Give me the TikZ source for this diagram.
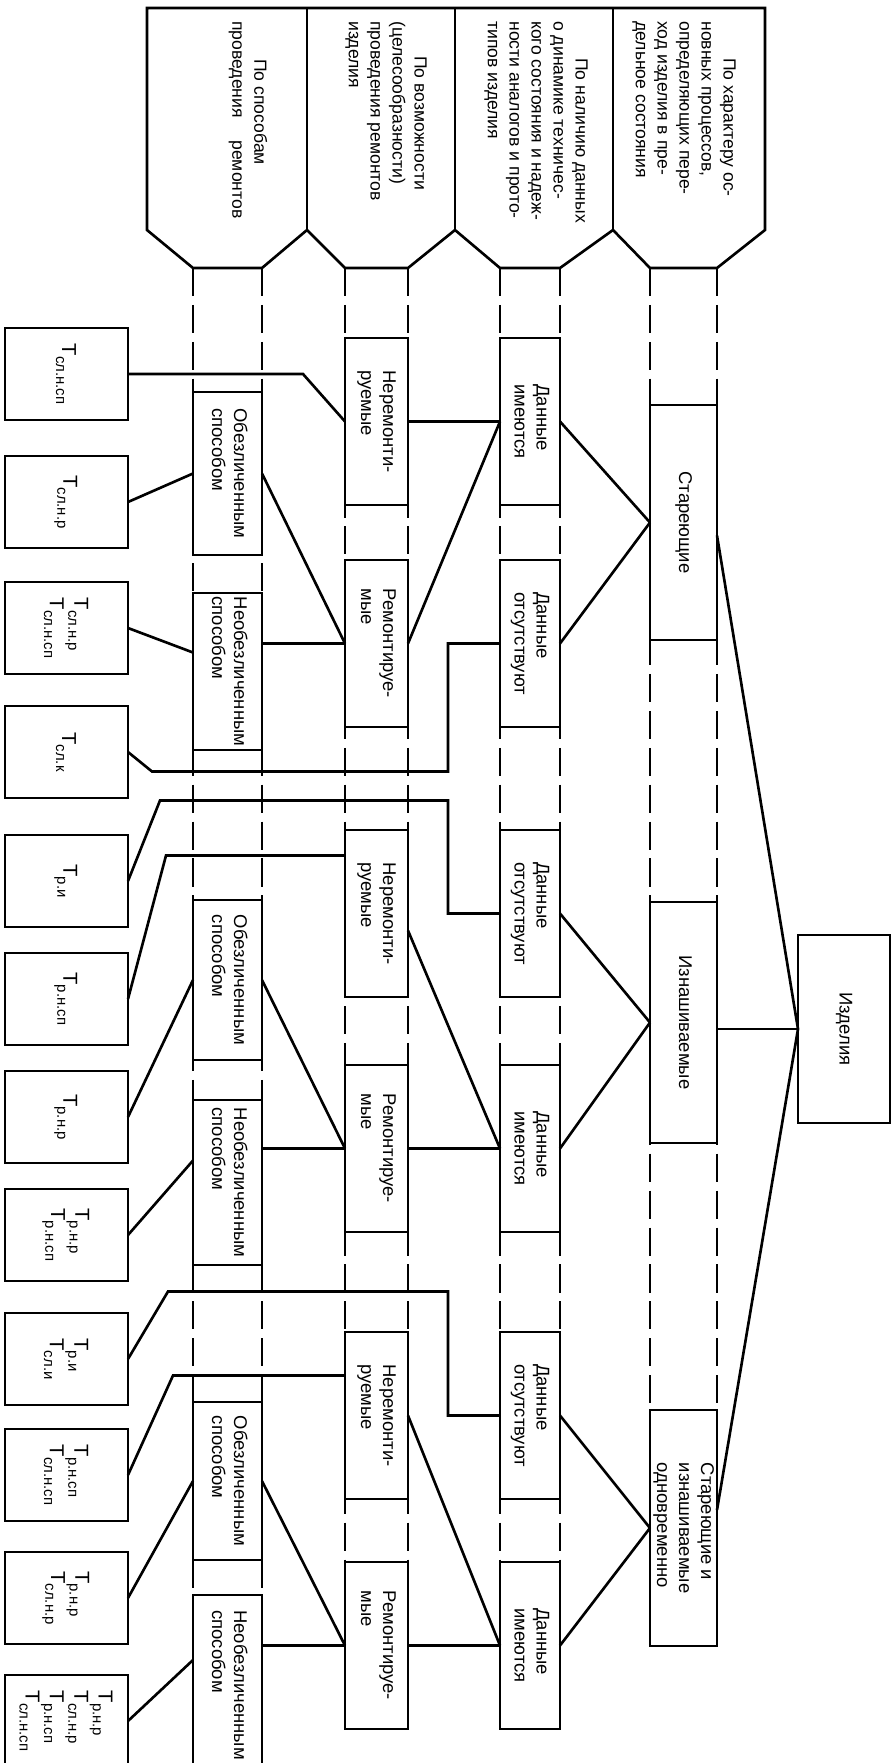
\documentclass[tikz,border=0pt]{standalone}
\usepackage{fontspec}
\setmainfont{Liberation Sans}
\usetikzlibrary{positioning}

\newcommand{\vtxt}[1]{\rotatebox{-90}{\begin{tabular}{@{}l@{}}#1\end{tabular}}}
\newcommand{\Tsub}[1]{Т\raisebox{-0.55ex}{\fontsize{8.5}{9}\selectfont #1}}

\begin{document}
\begin{tikzpicture}[
		line width=1.5pt,
		box/.style={rectangle, draw=black, fill=white, inner sep=0pt, outer sep=0pt, font=\fontsize{10.5}{12.5}\selectfont},
		t_box/.style={box, minimum width=2.46cm, minimum height=1.84cm, font=\fontsize{11.5}{12.5}\selectfont},
		way_box/.style={box, minimum width=1.38cm},
		rep_box/.style={box, minimum width=1.26cm, minimum height=3.34cm},
		data_box/.style={box, minimum width=1.2cm, minimum height=3.34cm},
		kind_box/.style={box, minimum width=1.34cm},
		head_text/.style={rotate=-90, anchor=west, align=left, inner sep=0pt, font=\fontsize{10}{12.5}\selectfont},
		guide/.style={dash pattern=on 16pt off 5pt},
		link/.style={line width=1.5pt}
		]
		\useasboundingbox (0,0) rectangle (17.92,-35.26);
		
		% --- HEADER (classification criteria) ---
		\coordinate (q0) at (2.94,-0.16);
		\coordinate (q1) at (6.14,-0.16);
		\coordinate (q2) at (9.1,-0.16);
		\coordinate (q3) at (12.26,-0.16);
		\coordinate (q4) at (15.3,-0.16);
		\coordinate (p0) at (2.94,-4.6);
		\coordinate (p1) at (6.14,-4.6);
		\coordinate (p2) at (9.1,-4.6);
		\coordinate (p3) at (12.26,-4.6);
		\coordinate (p4) at (15.3,-4.6);
		\coordinate (hB1) at (3.86,-5.36);
		\coordinate (hB2) at (5.24,-5.36);
		\coordinate (hC1) at (6.9,-5.36);
		\coordinate (hC2) at (8.16,-5.36);
		\coordinate (hD1) at (10.0,-5.36);
		\coordinate (hD2) at (11.2,-5.36);
		\coordinate (hE1) at (13.0,-5.36);
		\coordinate (hE2) at (14.34,-5.36);
		
		\draw (q0) -- (q4) -- (p4) -- (hE2) -- (hE1) -- (p3) -- (hD2) -- (hD1) -- (p2)
			-- (hC2) -- (hC1) -- (p1) -- (hB2) -- (hB1) -- (p0) -- cycle;
		\draw (q1) -- (p1);
		\draw (q2) -- (p2);
		\draw (q3) -- (p3);
		
		\node[head_text] (h_way) at (4.96,-0.4) {\hspace*{0.76cm}По способам\\проведения\hspace{1em} ремонтов};
		\node[head_text] (h_rep) at (7.72,-0.4) {\hspace*{0.7cm}По возможности\\(целесообразности)\\проведения ремонтов\\изделия};
		\node[head_text] (h_data) at (10.72,-0.4) {\hspace*{0.74cm}По наличию данных\\о динамике техничес-\\кого состояния и надеж-\\ности аналогов и прото-\\типов изделия};
		\node[head_text] (h_kind) at (13.68,-0.4) {\hspace*{0.74cm}По характеру ос-\\новных процессов,\\определяющих пере-\\ход изделия в пре-\\дельное состояния};
		
		% --- ROOT ---
		\node[box, minimum width=1.84cm, minimum height=3.76cm] (izd) at (16.88,-20.58) {\vtxt{Изделия}};
		
		% --- PROCESS KIND ---
		\node[kind_box, minimum height=4.7cm] (star) at (13.67,-10.45) {\vtxt{Стареющие}};
		\node[kind_box, minimum height=4.82cm, below=5.24cm of star] (iznash) {\vtxt{Изнашиваемые}};
		\node[kind_box, minimum height=4.72cm, below=5.34cm of iznash] (oba) {\vtxt{Стареющие и\\изнашиваемые\\одновременно}};
		
		% --- DATA ---
		\node[data_box] (d_im1) at (10.6,-8.43) {\vtxt{Данные\\имеются}};
		\node[data_box, below=1.1cm of d_im1] (d_ot1) {\vtxt{Данные\\отсутствуют}};
		\node[data_box, below=2.06cm of d_ot1] (d_ot2) {\vtxt{Данные\\отсутствуют}};
		\node[data_box, below=1.36cm of d_ot2] (d_im2) {\vtxt{Данные\\имеются}};
		\node[data_box, below=2.0cm of d_im2] (d_ot3) {\vtxt{Данные\\отсутствуют}};
		\node[data_box, below=1.26cm of d_ot3] (d_im3) {\vtxt{Данные\\имеются}};
		
		% --- REPAIRABILITY ---
		\node[rep_box, left=1.84cm of d_im1] (nerem1) {\vtxt{Неремонти-\\руемые}};
		\node[rep_box, left=1.84cm of d_ot1] (rem1) {\vtxt{Ремонтируе-\\мые}};
		\node[rep_box, left=1.84cm of d_ot2] (nerem2) {\vtxt{Неремонти-\\руемые}};
		\node[rep_box, left=1.84cm of d_im2] (rem2) {\vtxt{Ремонтируе-\\мые}};
		\node[rep_box, left=1.84cm of d_ot3] (nerem3) {\vtxt{Неремонти-\\руемые}};
		\node[rep_box, left=1.84cm of d_im3] (rem3) {\vtxt{Ремонтируе-\\мые}};
		
		% --- REPAIR WAY ---
		\node[way_box, minimum height=3.26cm] (obez1) at (4.55,-9.47) {\vtxt{Обезличенным\\способом}};
		\node[way_box, minimum height=3.14cm, below=0.76cm of obez1] (neob1) {\vtxt{Необезличенным\\способом}};
		\node[way_box, minimum height=3.2cm, below=3.0cm of neob1] (obez2) {\vtxt{Обезличенным\\способом}};
		\node[way_box, minimum height=3.3cm, below=0.8cm of obez2] (neob2) {\vtxt{Необезличенным\\способом}};
		\node[way_box, minimum height=3.16cm, below=2.74cm of neob2] (obez3) {\vtxt{Обезличенным\\способом}};
		\node[way_box, minimum height=3.6cm, below=0.7cm of obez3] (neob3) {\vtxt{Необезличенным\\способом}};
		
		% --- INDICATORS ---
		\node[t_box] (t1) at (1.33,-7.48) {\vtxt{\Tsub{сл.н.сп}}};
		\node[t_box, below=0.72cm of t1] (t2) {\vtxt{\Tsub{сл.н.р}}};
		\node[t_box, below=0.68cm of t2] (t3) {\vtxt{\Tsub{сл.н.р}\\\Tsub{сл.н.сп}}};
		\node[t_box, below=0.64cm of t3] (t4) {\vtxt{\Tsub{сл.к}}};
		\node[t_box, below=0.74cm of t4] (t5) {\vtxt{\Tsub{р.и}}};
		\node[t_box, below=0.52cm of t5] (t6) {\vtxt{\Tsub{р.н.сп}}};
		\node[t_box, below=0.52cm of t6] (t7) {\vtxt{\Tsub{р.н.р}}};
		\node[t_box, below=0.52cm of t7] (t8) {\vtxt{\Tsub{р.н.р}\\\Tsub{р.н.сп}}};
		\node[t_box, below=0.64cm of t8] (t9) {\vtxt{\Tsub{р.и}\\\Tsub{сл.и}}};
		\node[t_box, below=0.48cm of t9] (t10) {\vtxt{\Tsub{р.н.сп}\\\Tsub{сл.н.сп}}};
		\node[t_box, below=0.62cm of t10] (t11) {\vtxt{\Tsub{р.н.р}\\\Tsub{сл.н.р}}};
		\node[t_box, below=0.62cm of t11] (t12) {\vtxt{\Tsub{р.н.р}\\\Tsub{сл.н.р}\\\Tsub{р.н.сп}\\\Tsub{сл.н.сп}}};
		
		% --- DASHED COLUMN GUIDES ---
		\draw[guide] (hB1) -- (hB1 |- neob3.south);
		\draw[guide] (hB2) -- (hB2 |- neob3.south);
		\draw[guide] (hC1) -- (hC1 |- rem3.south);
		\draw[guide] (hC2) -- (hC2 |- rem3.south);
		\draw[guide] (hD1) -- (hD1 |- d_im3.south);
		\draw[guide] (hD2) -- (hD2 |- d_im3.south);
		\draw[guide] (hE1) -- (hE1 |- oba.south);
		\draw[guide] (hE2) -- (hE2 |- oba.south);
		
		% --- CONNECTIONS ---
		% 1. Root to process kind
		\draw[link] (izd.west) -- ([yshift=-0.26cm]star.east);
		\draw[link] (izd.west) -- (izd.west -| iznash.east);
		\draw[link] (izd.west) -- ([yshift=0.36cm]oba.east);
		
		% 2. Process kind to data
		\draw[link] (star.west) -- (d_im1.east);
		\draw[link] (star.west) -- (d_ot1.east);
		\draw[link] (iznash.west) -- (d_ot2.east);
		\draw[link] (iznash.west) -- (d_im2.east);
		\draw[link] (oba.west) -- (d_ot3.east);
		\draw[link] (oba.west) -- (d_im3.east);
		
		% 3. Data to repairability
		\draw[link] (d_im1.west) -- (nerem1.east);
		\draw[link] (d_im1.west) -- (rem1.east);
		\draw[link] ([yshift=-0.34cm]nerem2.east) -- (d_im2.west);
		\draw[link] (d_im2.west) -- (rem2.east);
		\draw[link] (nerem3.east) -- (d_im3.west);
		\draw[link] (d_im3.west) -- (rem3.east);
		
		% 4. No data, straight to indicators
		\draw[link] (d_ot1.west) -- ++(-1.04,0) -- ++(0,-2.56) -- ++(-5.92,0) -- (t4.east);
		\draw[link] (d_ot2.west) -- ++(-1.04,0) -- ++(0,2.26) -- ++(-5.76,0) -- (t5.east);
		\draw[link] (d_ot3.west) -- ++(-1.04,0) -- ++(0,2.48) -- ++(-5.6,0) -- (t9.east);
		
		% 5. Non-repairable to indicators
		\draw[link] (nerem1.west) -- ++(-0.84,0.95) -- (t1.east);
		\draw[link] ([yshift=1.16cm]nerem2.west) -- ++(-3.58,0) -- (t6.east);
		\draw[link] ([yshift=0.8cm]nerem3.west) -- ++(-3.44,0) -- (t10.east);
		
		% 6. Repairable to repair way
		\draw[link] (rem1.west) -- (obez1.east);
		\draw[link] (rem1.west) -- (rem1.west -| neob1.east);
		\draw[link] (rem2.west) -- (obez2.east);
		\draw[link] (rem2.west) -- (rem2.west -| neob2.east);
		\draw[link] (rem3.west) -- (obez3.east);
		\draw[link] (rem3.west) -- (rem3.west -| neob3.east);
		
		% 7. Repair way to indicators
		\draw[link] (obez1.west) -- (t2.east);
		\draw[link] ([yshift=0.38cm]neob1.west) -- (t3.east);
		\draw[link] (obez2.west) -- (t7.east);
		\draw[link] ([yshift=0.44cm]neob2.west) -- (t8.east);
		\draw[link] (obez3.west) -- (t11.east);
		\draw[link] ([yshift=0.5cm]neob3.west) -- (t12.east);
		
	\end{tikzpicture}
\end{document}
